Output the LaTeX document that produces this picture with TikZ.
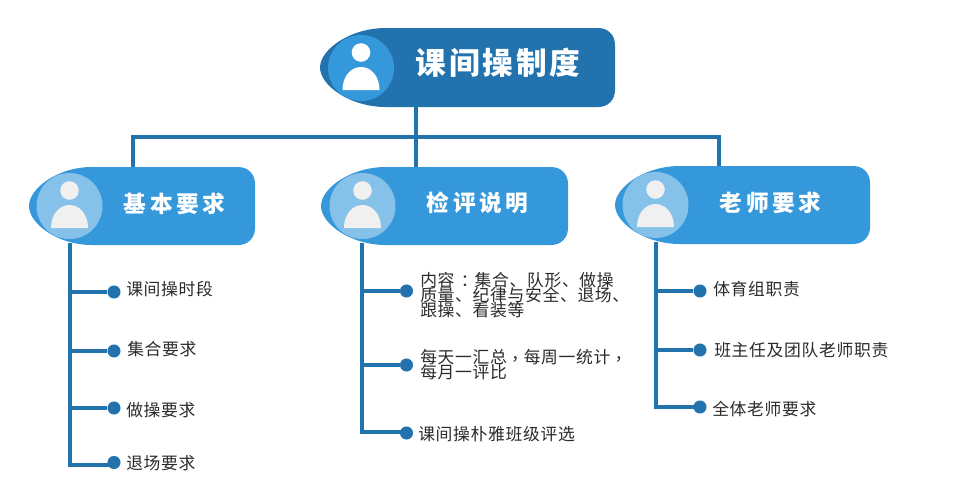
\documentclass[tikz,border=0pt]{standalone}
\usepackage{fontspec}
\setmainfont{Noto Sans CJK SC}
\newfontfamily\tcpunct{Noto Sans CJK TC}
\definecolor{darkb}{HTML}{2272AD}
\definecolor{lightb}{HTML}{3498DB}
\definecolor{paleb}{HTML}{85C1E9}
\definecolor{iconw}{HTML}{F0F0F0}
\definecolor{txt}{HTML}{2B2B2B}
\newcommand{\itemfont}{\fontsize{12.6}{11.3}\selectfont\lineskiplimit=-30pt\relax\addfontfeature{LetterSpace=4}}
\newcommand{\colonp}{{\kern1.5pt\tcpunct\addfontfeature{LetterSpace=4}\raisebox{-0.8pt}{：}\kern1pt}}
\newcommand{\commap}{{\tcpunct\addfontfeature{LetterSpace=4}\raisebox{-1.5pt}{，}}}
\newcommand{\cardshape}[6]{% x1,x2,y1,y2,cx,color
  \fill[#6] (#5,#3) -- ({#2-17},#3) .. controls ({#2-7},#3) and (#2,{#3+7}) .. (#2,{#3+17})
  -- (#2,{#4-17}) .. controls (#2,{#4-7}) and ({#2-7},#4) .. ({#2-17},#4) -- (#5,#4)
  .. controls ({#5-0.55*(#5-#1)},#4) and (#1,{#4-0.55*(#4-#3)/2}) .. (#1,{(#3+#4)/2})
  .. controls (#1,{#3+0.55*(#4-#3)/2}) and ({#5-0.55*(#5-#1)},#3) .. (#5,#3) -- cycle;}
\newcommand{\person}[5]{% cx,cy,disc,icon,name
  \node[disc,fill=#3] (#5) at (#1,#2) {};
  \fill[#4] ({#1},{#2-15.5}) circle[radius=9.3];
  \fill[#4] ({#1-18.5},{#2+22}) .. controls ({#1-18.5},{#2+8}) and ({#1-10},{#2-1}) .. ({#1},{#2-1})
    .. controls ({#1+10},{#2-1}) and ({#1+18.5},{#2+8}) .. ({#1+18.5},{#2+22}) -- cycle;}
\begin{document}
\begin{tikzpicture}[x=0.75pt,y=-0.75pt,
  disc/.style={circle,minimum size=49.5pt,inner sep=0pt,outer sep=0pt},
  title/.style={inner sep=0pt,text=white,font=\fontsize{23}{24}\selectfont\bfseries\addfontfeature{LetterSpace=9}},
  head/.style={inner sep=0pt,text=white,font=\fontsize{17}{20}\selectfont\bfseries\addfontfeature{LetterSpace=16}},
  item/.style={inner sep=0pt,anchor=west,text=txt,align=left,font=\itemfont},
  link/.style={draw=darkb,line width=3pt},
  dot/.style={circle,fill=darkb,minimum size=9.8pt,inner sep=0pt,outer sep=0pt}]
\useasboundingbox (0,0) rectangle (955,501);
\fill[white] (0,0) rectangle (955,501);

% anchor points
\coordinate (root) at (416,107);
\coordinate (bus) at (416,137);
\coordinate (busL) at (133,167);
\coordinate (busM) at (416,167);
\coordinate (busR) at (719,166);
\coordinate (trunkL) at (70,245);
\coordinate (trunkM) at (362,245);
\coordinate (trunkR) at (656,244);

% dots
\node[dot] (a1) at (114,292) {};
\node[dot] (a2) at (114,351) {};
\node[dot] (a3) at (114,408) {};
\node[dot] (a4) at (114,462.5) {};
\node[dot] (b1) at (406.5,291) {};
\node[dot] (b2) at (406.5,365) {};
\node[dot] (b3) at (406.5,433) {};
\node[dot] (c1) at (700,291) {};
\node[dot] (c2) at (700,350) {};
\node[dot] (c3) at (700,407) {};

% connectors
\draw[link] (root) -- (busM);
\draw[link,line cap=rect] (busL) |- (bus) -| (busR);
\draw[link,line cap=rect] (trunkL) |- ([yshift=-1.9pt]a4.center);
\draw[link] (trunkL |- a1) -- (a1);
\draw[link] (trunkL |- a2) -- (a2);
\draw[link] (trunkL |- a3) -- (a3);
\draw[link,line cap=rect] (trunkM) |- ([yshift=1.1pt]b3.center);
\draw[link] (trunkM |- b1) -- (b1);
\draw[link] (trunkM |- b2) -- (b2);
\draw[link,line cap=rect] (trunkR) |- (c3);
\draw[link] (trunkR |- c1) -- (c1);
\draw[link] (trunkR |- c2) -- (c2);

% cards
\cardshape{320}{615}{28}{107}{386}{darkb}
\person{361}{68}{lightb}{white}{p0}
\node[title] (t0) at (498,63) {课间操制度};

\cardshape{29}{255}{167}{245}{92}{lightb}
\person{69.5}{206}{paleb}{iconw}{p1}
\node[head] (t1) at (174.5,204) {基本要求};

\cardshape{321}{568}{167}{245}{386}{lightb}
\person{362.5}{206}{paleb}{iconw}{p2}
\node[head] (t2) at (477.5,203) {检评说明};

\cardshape{615}{870}{166}{244}{680}{lightb}
\person{655.5}{205}{paleb}{iconw}{p3}
\node[head] (t3) at (770.5,203) {老师要求};

% items
\node[item] (a1t) at (126,289) {课间操时段};
\node[item] (a2t) at (127,349) {集合要求};
\node[item] (a3t) at (126,410) {做操要求};
\node[item] (a4t) at (126,463) {退场要求};
\node[item] (b1t) at (420,295.5) {内容\colonp 集合、队形、做操\\质量、纪律与安全、退场、\\跟操、看装等};
\node[item] (b2t) at (420,364.5) {每天一汇总\commap 每周一统计\commap\\每月一评比};
\node[item] (b3t) at (418,434) {课间操朴雅班级评选};
\node[item] (c1t) at (713,289) {体育组职责};
\node[item] (c2t) at (714,350) {班主任及团队老师职责};
\node[item] (c3t) at (712,409) {全体老师要求};
\end{tikzpicture}
\end{document}
